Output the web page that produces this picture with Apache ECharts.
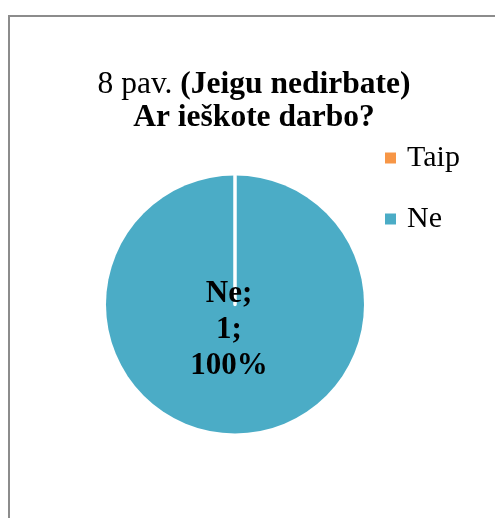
<!DOCTYPE html>
<html>
<head>
<meta charset="utf-8">
<script src="https://cdn.jsdelivr.net/npm/echarts@6/dist/echarts.min.js"></script>
<style>
  html, body { margin: 0; padding: 0; background: #fff; overflow: hidden; }
  #frame {
    position: absolute; left: 8px; top: 15px; width: 600px; height: 600px;
    border-left: 2px solid #8c8c8c; border-top: 2px solid #8c8c8c;
  }
  #chart { position: absolute; left: 0; top: 0; width: 495px; height: 518px; }
</style>
</head>
<body>
<div id="frame"></div>
<div id="chart"></div>
<script>
// data
const categories = ['Taip', 'Ne']
const values = [0, 1]
const colors = ['#F79646', '#4BACC6']

const serif = '"Liberation Serif", "Times New Roman", serif'

var myChart = echarts.init(document.getElementById('chart'))

let pieData = categories.map((name, i) => ({
  name: name,
  value: values[i],
  itemStyle: { color: colors[i], borderColor: '#fff', borderWidth: i === 0 ? 3.5 : 0 },
  label: { show: values[i] > 0 }
}))
// zero slice last so its white edge is painted over the full slice
pieData.reverse()

let option = {
  animation: false,
  title: {
    text: '{r|8 pav. }{b|(Jeigu nedirbate)}\n{b|Ar ieškote darbo?}',
    left: 254,
    top: 68,
    textAlign: 'center',
    padding: 0,
    textStyle: {
      fontFamily: serif,
      fontSize: 31.5,
      lineHeight: 33,
      color: '#000',
      rich: {
        r: { fontFamily: serif, fontSize: 31.5, lineHeight: 33, color: '#000', fontWeight: 'normal' },
        b: { fontFamily: serif, fontSize: 31.5, lineHeight: 33, color: '#000', fontWeight: 'bold' }
      }
    }
  },
  legend: {
    orient: 'vertical',
    left: 385,
    top: 143,
    padding: 0,
    icon: 'rect',
    itemWidth: 11,
    itemHeight: 11,
    itemGap: 31,
    data: categories,
    itemStyle: { borderWidth: 0 },
    textStyle: {
      fontFamily: serif,
      fontSize: 30,
      lineHeight: 30,
      color: '#000',
      padding: [0, 0, 0, 6]
    }
  },
  series: [
    {
      type: 'pie',
      center: [235, 304.5],
      radius: 129,
      startAngle: 90,
      clockwise: true,
      avoidLabelOverlap: false,
      emphasis: { disabled: true },
      labelLine: { show: false },
      label: {
        position: 'center',
        formatter: '{s| }\n{b};\n{c};\n{d}%',
        fontFamily: serif,
        fontSize: 31,
        fontWeight: 'bold',
        lineHeight: 36,
        color: '#000',
        padding: [0, 12, 0, 0],
        rich: {
          s: { fontSize: 2, lineHeight: 51 }
        }
      },
      data: pieData
    }
  ]
}

option && myChart.setOption(option)
</script>
</body>
</html>
